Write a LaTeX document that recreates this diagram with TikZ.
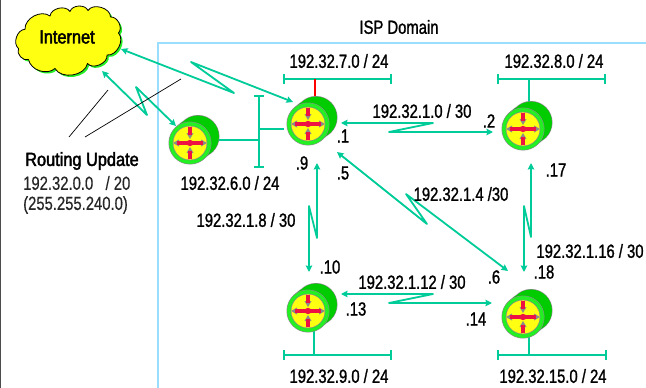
\documentclass[tikz,border=0pt]{standalone}
\usepackage{fontspec}
\usetikzlibrary{arrows.meta}
\setmainfont[FakeStretch=0.78,FakeBold=1.2]{Liberation Sans}
\newfontfamily\boldlabel[FakeStretch=0.86,FakeBold=2.0]{Liberation Sans}
\newfontfamily\plainlabel[FakeStretch=0.78,FakeBold=0.4]{Liberation Sans}
\definecolor{linkc}{HTML}{00CC99}
\definecolor{domainc}{HTML}{99DDFF}
\definecolor{backg}{HTML}{00CC00}
\definecolor{ringg}{HTML}{22F022}
\definecolor{rgray}{HTML}{8A8A8A}
\definecolor{ylw}{HTML}{FFFF11}
\definecolor{redc}{HTML}{EE1144}
\tikzset{
  lbl/.style={font=\fontsize{19}{21}\selectfont,inner sep=0pt,text=black},
  boldlbl/.style={font=\fontsize{19}{21}\boldlabel,inner sep=0pt,text=black},
  plainlbl/.style={font=\fontsize{19}{21}\plainlabel,inner sep=0pt,text=black!85,anchor=west},
  linkz/.style={draw=linkc,line width=1.8pt,line join=round,{Stealth[length=6.5pt,width=6.5pt,inset=0.8pt]}-{Stealth[length=6.5pt,width=6.5pt,inset=0.8pt]}},
  netbar/.style={draw=linkc,line width=2pt},
  router/.pic={
    \fill[rgray] (1,-1) circle (21.5) (8,-6.5) circle (21.5) (4,-3.5) circle (21.5);
    \fill[backg] (8,-6.5) circle (20.9) (4,-3.5) circle (20.9);
    \fill[rgray] (0,0) circle (21.5);
    \fill[ringg] (0,0) circle (20.9);
    \fill[rgray] (0,0) circle (17.3);
    \fill[ylw] (0,0) circle (16.6);
    \fill[rgray] (17,0) -- (11,-3.5) -- (11,3.5) -- cycle;
    \fill[rgray] (-17,0) -- (-11,-3.5) -- (-11,3.5) -- cycle;
    \fill[rgray] (0,-4) -- (-3.5,-10) -- (3.5,-10) -- cycle;
    \fill[rgray] (0,4) -- (-3.5,10) -- (3.5,10) -- cycle;
    \draw[redc,line width=3.4pt] (-13,0) -- (13,0) (0,-16) -- (0,-8) (0,16) -- (0,8);
    \fill[redc] (0,0) circle (3.2);
  }
}
\begin{document}
\begin{tikzpicture}[x=1pt,y=-1pt]
\useasboundingbox (0,0) rectangle (646,388);
\fill[white] (0,0) rectangle (646,388);
\fill[black!70] (0,0) rectangle (1,388);
% domain
\draw[domainc,line width=2pt] (158,388) -- (158,43) -- (646,43);
% coordinates
\coordinate (r6) at (190,143);
\coordinate (r7) at (308,124);
\coordinate (r8) at (523,129);
\coordinate (r9) at (308,311);
\coordinate (r15) at (523,317);
% cloud
\def\cloudpath{(25,29.3) to[bend left=65] (50,16) to[bend left=70] (70,11.5) to[bend left=70] (88,10.5) to[bend left=75] (110.5,17) to[bend left=70] (118.5,33) to[bend left=70] (107,55) to[bend left=75] (87.5,63.5) to[bend left=70] (55,68.5) to[bend left=60] (28.5,59.5) to[bend left=70] (18.5,48.5) to[bend left=70] (25,29.3) -- cycle}
\begin{scope}[shift={(1.8,1.8)}]
\fill[ringg] \cloudpath;
\end{scope}
\filldraw[fill=ylw,draw=black,line width=0.8pt,line join=round] \cloudpath;
\node[boldlbl] (inet) at (67,37) {Internet};
% network 6
\coordinate (b6t) at (259,96);
\coordinate (b6b) at (259,167);
\coordinate (b6a) at (259,140);
\coordinate (b6c) at (259,129);
\coordinate (r6e) at (216,140);
\coordinate (r7w) at (284,129);
\draw[netbar] (b6t) -- (b6b);
\draw[netbar] ([xshift=-5pt]b6t) -- ([xshift=5pt]b6t);
\draw[netbar] ([xshift=-5pt]b6b) -- ([xshift=5pt]b6b);
\draw[netbar] (r6e) -- (b6a);
\draw[netbar] (b6c) -- (r7w);
% bars
\foreach \nm/\xa/\xb/\y/\sx/\sy in {n7/284/391/79/315/96, n8/498/605/79/529/104, n9/284/391/355/314/330, n15/498/606/355/529/336}{
  \coordinate (\nm l) at (\xa,\y);
  \coordinate (\nm r) at (\xb,\y);
  \coordinate (\nm m) at (\sx,\y);
  \coordinate (\nm s) at (\sx,\sy);
  \draw[netbar] (\nm l) -- (\nm r);
  \draw[netbar] ([yshift=-5pt]\nm l) -- ([yshift=5pt]\nm l);
  \draw[netbar] ([yshift=-5pt]\nm r) -- ([yshift=5pt]\nm r);
}
\draw[red,line width=2pt] (n7m) -- (n7s);
\draw[netbar] (n8m) -- (n8s);
\draw[netbar] (n9m) -- (n9s);
\draw[netbar] (n15m) -- (n15s);
% routers
\foreach \r in {r6,r7,r8,r9,r15}{ \pic at (\r) {router}; }
% links
\coordinate (i1) at (102,71); \coordinate (i2) at (176,126);
\coordinate (i3) at (121,49); \coordinate (i4) at (293,102);
\coordinate (a1) at (341,123); \coordinate (a2) at (493,132);
\coordinate (d1) at (337,152); \coordinate (d2) at (508,271);
\coordinate (v1) at (531,163); \coordinate (v2) at (524,272);
\coordinate (w1) at (317,163); \coordinate (w2) at (309,272);
\coordinate (h1) at (341,294); \coordinate (h2) at (492,303);
\draw[linkz] (i1) -- (147,115) -- (136,87) -- (i2);
\draw[linkz] (i3) -- (234,93) -- (191,62) -- (i4);
\draw[linkz] (a1) -- (433,123) -- (389,132) -- (a2);
\draw[linkz] (d1) -- (427,224) -- (406,194) -- (d2);
\draw[linkz] (v1) -- (531,237) -- (524,206) -- (v2);
\draw[linkz] (w1) -- (317,238) -- (309,206) -- (w2);
\draw[linkz] (h1) -- (433,294) -- (389,303) -- (h2);
% black lines
\coordinate (k1) at (108,90); \coordinate (k2) at (69,137);
\coordinate (k3) at (181,79); \coordinate (k4) at (85,137);
\draw[black,line width=0.7pt] (k1) -- (k2);
\draw[black,line width=0.7pt] (k3) -- (k4);
% labels
\node[lbl] (t0) at (399,27) {ISP Domain};
\node[lbl] (t1) at (339,61) {192.32.7.0 / 24};
\node[lbl] (t2) at (554,61) {192.32.8.0 / 24};
\node[lbl] (t3) at (230,183) {192.32.6.0 / 24};
\node[lbl] (t4) at (422,111) {192.32.1.0 / 30};
\node[lbl] (t5) at (343,136) {.1};
\node[lbl] (t6) at (489,121) {.2};
\node[lbl] (t7) at (302,163) {.9};
\node[lbl] (t8) at (343,173) {.5};
\node[lbl] (t9) at (556,170) {.17};
\node[lbl] (t10) at (461,194) {192.32.1.4 /30};
\node[lbl] (t11) at (246,220) {192.32.1.8 / 30};
\node[lbl] (t12) at (330,267) {.10};
\node[lbl] (t13) at (412,282) {192.32.1.12 / 30};
\node[lbl] (t14) at (356,309) {.13};
\node[lbl] (t15) at (494,277) {.6};
\node[lbl] (t16) at (476,319) {.14};
\node[lbl] (t17) at (544,272) {.18};
\node[lbl] (t18) at (590,251) {192.32.1.16 / 30};
\node[lbl] (t19) at (339,376) {192.32.9.0 / 24};
\node[lbl] (t20) at (553,376) {192.32.15.0 / 24};
\node[boldlbl] (t21) at (82,161) {Routing Update};
\node[plainlbl] (t22) at (23,183) {192.32.0.0\ \ \ / 20};
\node[plainlbl] (t23) at (23,205) {(255.255.240.0)};
\end{tikzpicture}
\end{document}
